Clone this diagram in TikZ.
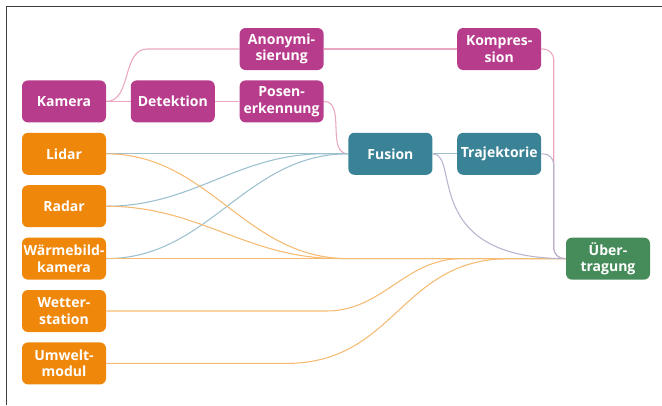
\documentclass[tikz,border=0pt]{standalone}
\usepackage{fontspec}
\setmainfont{Open Sans}
\usepackage{tikz}
\usetikzlibrary{calc, backgrounds}
\definecolor{camcolor}{RGB}{184, 60, 140}
\definecolor{sensorcolor}{RGB}{239, 135, 10}
\definecolor{fusioncolor}{RGB}{58, 130, 150}
\definecolor{sendcolor}{RGB}{70, 140, 90}
\definecolor{pinkline}{RGB}{234, 166, 192}
\definecolor{blueline}{RGB}{156, 192, 206}
\definecolor{orangeline}{RGB}{246, 187, 114}
\definecolor{greyline}{RGB}{184, 180, 206}
\definecolor{framecolor}{RGB}{60, 60, 60}
\tikzstyle{block} = [rectangle, rounded corners=4.5pt, minimum width=63pt, minimum height=31.5pt, inner xsep=1pt, inner ysep=0pt, align=center, text=white, font=\fontsize{10.5}{12.5}\selectfont\bfseries]
\tikzstyle{cam} = [block, fill=camcolor]
\tikzstyle{sensor} = [block, fill=sensorcolor]
\tikzstyle{proc} = [block, fill=fusioncolor]
\tikzstyle{send} = [block, fill=sendcolor]
\tikzstyle{pinklink} = [line width=0.8pt, draw=pinkline]
\tikzstyle{bluelink} = [line width=0.8pt, draw=blueline]
\tikzstyle{orangelink} = [line width=0.8pt, draw=orangeline]
\tikzstyle{greylink} = [line width=0.8pt, draw=greyline]
\begin{document}
\begin{tikzpicture}[x=0.75pt, y=-0.75pt]
    \useasboundingbox (0,0) rectangle (662,405);
    \draw[framecolor, line width=1pt] (662,6.5) -- (6.5,6.5) -- (6.5,405);

    % Camera branch
    \node[cam] (kamera) at (64,101.4) {Kamera};
    \node[cam] (detektion) at (172.8,101.4) {Detektion};
    \node[cam] (anonym) at (281.6,49) {Anonymi-\\sierung};
    \node[cam] (posen) at (281.6,101.4) {Posen-\\erkennung};
    \node[cam] (kompression) at (499.2,49) {Kompres-\\sion};

    % Other sensors
    \node[sensor] (lidar) at (64,153.8) {Lidar};
    \node[sensor] (radar) at (64,206.2) {Radar};
    \node[sensor] (waerme) at (64,258.6) {Wärmebild-\\kamera};
    \node[sensor] (wetter) at (64,311) {Wetter-\\station};
    \node[sensor] (umwelt) at (64,363.4) {Umwelt-\\modul};

    % Processing and output
    \node[proc] (fusion) at (390.4,153.8) {Fusion};
    \node[proc] (trajektorie) at (499.2,153.8) {Trajektorie};
    \node[send] (uebertragung) at (608,258.6) {Über-\\tragung};

    \begin{scope}[on background layer]
        % camera chain
        \draw[pinklink] (kamera.east) to[out=0,in=180] ($(anonym.west)+(-92,0)$) -- (anonym.west);
        \draw[pinklink] (kamera) -- (detektion);
        \draw[pinklink] (detektion) -- (posen);
        \draw[pinklink] (anonym) -- (kompression);
        \draw[pinklink] (posen.east) to[out=0,in=180] (fusion.west);
        \draw[pinklink, rounded corners=8pt] (kompression.east) -| ($(uebertragung.west)+(-12,0)$) -- (uebertragung.west);

        % sensors into fusion
        \draw[bluelink] (lidar) -- (fusion);
        \draw[bluelink] (radar.east) to[out=0,in=180] ($(fusion.west)+(-24,0)$) -- (fusion.west);
        \draw[bluelink] (waerme.east) to[out=0,in=180] (fusion.west);

        % sensors straight to the uplink
        \draw[orangelink] (lidar.east) to[out=0,in=180] ($(uebertragung.west)+(-218,0)$) -- (uebertragung.west);
        \draw[orangelink] (radar.east) to[out=0,in=180] ($(uebertragung.west)+(-226,0)$) -- (uebertragung.west);
        \draw[orangelink] (waerme) -- (uebertragung);
        \draw[orangelink] (wetter.east) -- ++(220,0) to[out=0,in=180] ($(uebertragung.west)+(-104,0)$) -- (uebertragung.west);
        \draw[orangelink] (umwelt.east) -- ++(180,0) .. controls +(110,0) and +(-110,0) .. ($(uebertragung.west)+(-56,0)$) -- (uebertragung.west);

        % fusion onwards
        \draw[bluelink] (fusion) -- (trajektorie);
        \draw[greylink] (fusion.east) .. controls +(28,0) and +(-146,0) .. (uebertragung.west);
        \draw[greylink, rounded corners=8pt] (trajektorie.east) -| ($(uebertragung.west)+(-12,0)$) -- (uebertragung.west);
    \end{scope}
\end{tikzpicture}
\end{document}
